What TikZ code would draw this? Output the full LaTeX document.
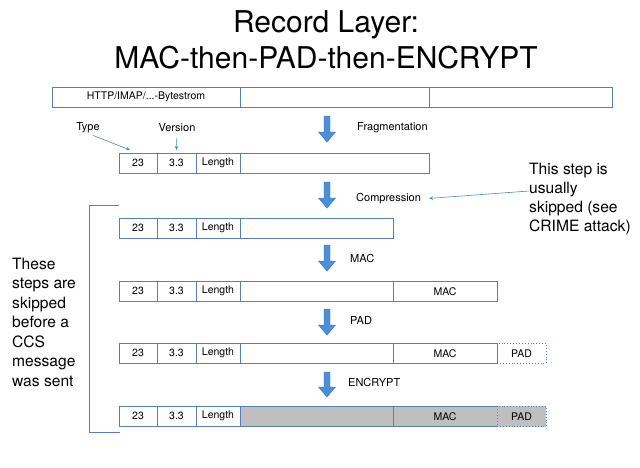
\documentclass[tikz,border=0pt]{standalone}
\usepackage{fontspec}
\setmainfont{TeX Gyre Heros}
\usetikzlibrary{arrows.meta}
\definecolor{boxblue}{HTML}{5A7FB5}
\definecolor{arrfill}{HTML}{4C8FD6}
\definecolor{arredge}{HTML}{3C72B0}
\definecolor{thinblue}{HTML}{4A88CC}
\definecolor{encgray}{HTML}{BFBFBF}
\tikzset{
  cell/.style={draw=boxblue, line width=0.9pt, minimum height=20.5pt, inner sep=0pt, outer sep=0pt, anchor=north west, font=\fontsize{10.5}{12}\selectfont},
  padcell/.style={cell, dotted},
  enc/.style={fill=encgray},
  lbl/.style={font=\fontsize{11}{13}\selectfont, inner sep=0pt},
  bigtxt/.style={font=\fontsize{15.6}{19}\selectfont, align=left, inner sep=0pt, anchor=west},
  thinarr/.style={draw=thinblue, line width=0.6pt, -{Stealth[length=4pt,width=3.5pt]}},
}
\newcommand{\blockarr}[3]{% x, ytop, ybottom
  \fill[arrfill, draw=arredge, line width=0.4pt]
    (#1-3,#2) -- (#1+3,#2) -- (#1+3,#3-10) -- (#1+8.5,#3-10) -- (#1,#3) -- (#1-8.5,#3-10) -- (#1-3,#3-10) -- cycle;}
\begin{document}
\begin{tikzpicture}[x=1pt,y=-1pt]
\useasboundingbox (0,0) rectangle (640,467);
% title
\node[font=\fontsize{30}{36}\selectfont, align=center, inner sep=0pt] (title) at (326,40) {Record Layer:\\MAC-then-PAD-then-ENCRYPT};
% row 0
\node[cell, minimum width=188pt] (r0a) at (52,87) {HTTP/IMAP/...-Bytestrom};
\node[cell, minimum width=189pt] (r0b) at (240,87) {};
\node[cell, minimum width=183pt] (r0c) at (429,87) {};
% labels
\node[lbl] (typelbl) at (88,128) {Type};
\node[lbl] (verlbl) at (177,128) {Version};
\node[lbl, anchor=west] (fraglbl) at (357,128) {Fragmentation};
\node[lbl, anchor=west] (complbl) at (356,199) {Compression};
\node[lbl, anchor=west] (maclbl) at (350,258) {MAC};
\node[lbl, anchor=west] (padlbl) at (350,320) {PAD};
\node[lbl, anchor=west] (enclbl) at (348,382) {ENCRYPT};
% row 1
\node[cell, minimum width=38pt] (r1a) at (119,153) {23};
\node[cell, minimum width=39pt] (r1b) at (157,153) {3.3};
\node[cell, minimum width=44pt] (r1c) at (196,153) {Length};
\node[cell, minimum width=189pt] (r1d) at (240,153) {};
% row 2
\node[cell, minimum width=38pt] (r2a) at (119,218) {23};
\node[cell, minimum width=39pt] (r2b) at (157,218) {3.3};
\node[cell, minimum width=44pt] (r2c) at (196,218) {Length};
\node[cell, minimum width=153pt] (r2d) at (240,218) {};
% row 3
\node[cell, minimum width=38pt] (r3a) at (119,281) {23};
\node[cell, minimum width=39pt] (r3b) at (157,281) {3.3};
\node[cell, minimum width=44pt] (r3c) at (196,281) {Length};
\node[cell, minimum width=153pt] (r3d) at (240,281) {};
\node[cell, minimum width=104pt] (r3e) at (393,281) {MAC};
% row 4
\node[cell, minimum width=38pt] (r4a) at (119,343) {23};
\node[cell, minimum width=39pt] (r4b) at (157,343) {3.3};
\node[cell, minimum width=44pt] (r4c) at (196,343) {Length};
\node[cell, minimum width=153pt] (r4d) at (240,343) {};
\node[cell, minimum width=104pt] (r4e) at (393,343) {MAC};
\node[padcell, minimum width=49pt] (r4f) at (497,343) {PAD};
% row 5
\node[cell, minimum width=38pt] (r5a) at (119,406) {23};
\node[cell, minimum width=39pt] (r5b) at (157,406) {3.3};
\node[cell, minimum width=44pt] (r5c) at (196,406) {Length};
\node[cell, enc, minimum width=153pt] (r5d) at (240,406) {};
\node[cell, enc, minimum width=104pt] (r5e) at (393,406) {MAC};
\node[padcell, enc, minimum width=49pt] (r5f) at (497,406) {PAD};
% block arrows
\blockarr{327}{116}{142}
\blockarr{327}{182}{208}
\blockarr{327}{245}{271}
\blockarr{327}{309}{335}
\blockarr{327}{372}{397}
% annotations
\node[bigtxt] (crime) at (529,199) {This step is\\usually\\skipped (see\\CRIME attack)};
\node[bigtxt, font=\fontsize{15.6}{19.5}\selectfont] (ccs) at (12,322) {These\\steps are\\skipped\\before a\\CCS\\message\\was sent};
% thin arrows
\draw[thinarr, shorten <=5pt] (typelbl.south) -- ([xshift=-8pt,yshift=3pt]r1a.north);
\draw[thinarr, shorten <=5pt] (verlbl.south) -- ([yshift=3pt]r1b.north);
\draw[thinarr, shorten >=8pt] ([yshift=8pt]crime.west) -- (complbl.east);
% bracket
\draw[boxblue, line width=0.8pt] (119,205) -- (89,205) -- (89,432) -- (120,432);
\end{tikzpicture}
\end{document}
